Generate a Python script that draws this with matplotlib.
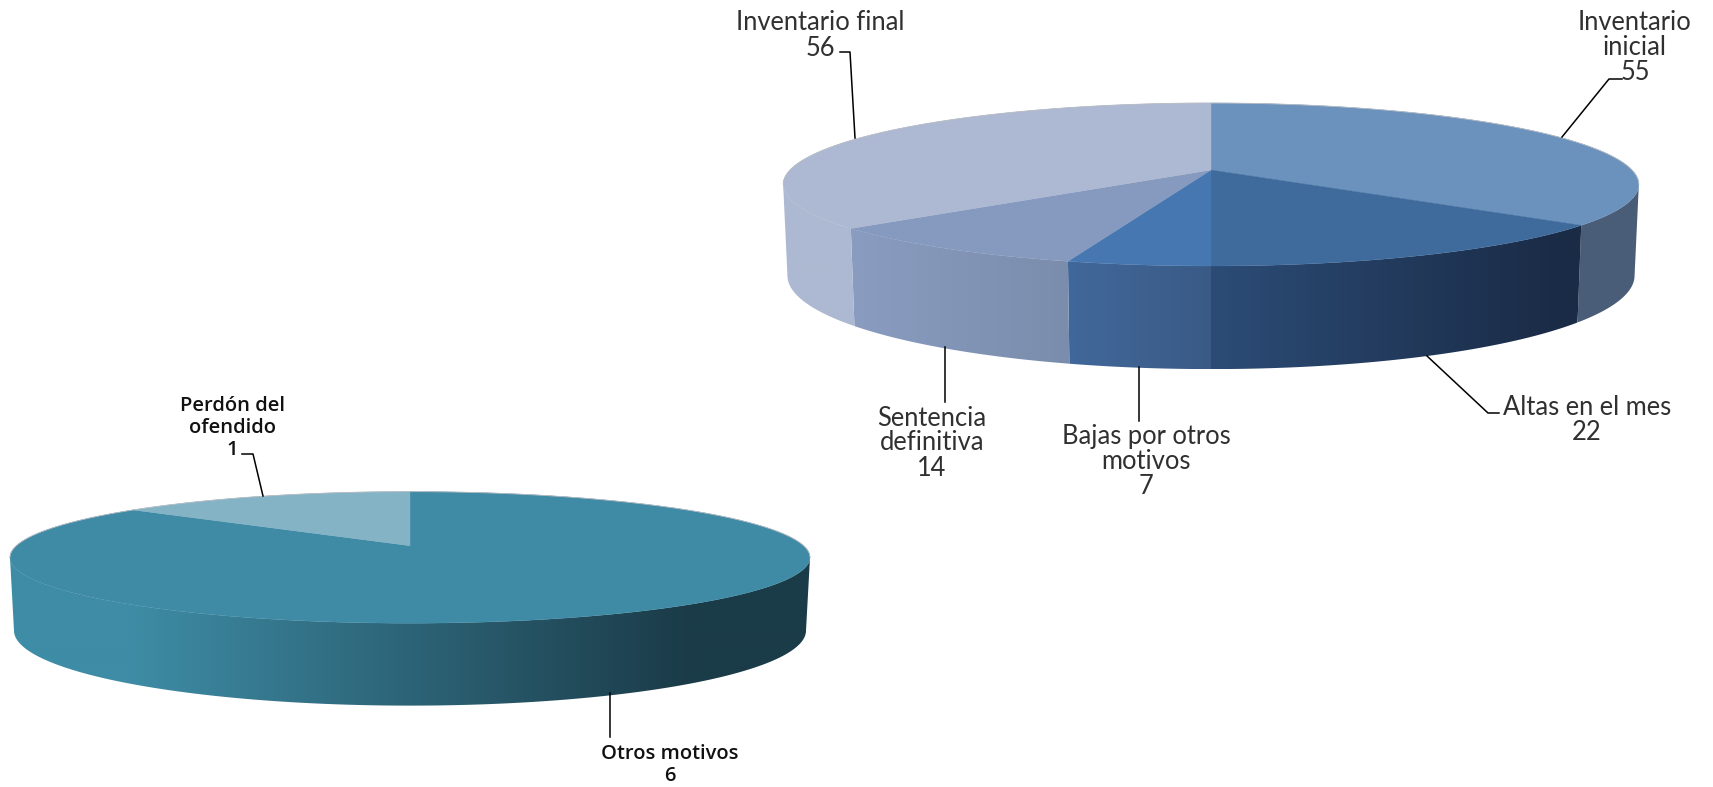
import numpy as np
import matplotlib
matplotlib.use("Agg")
import matplotlib.pyplot as plt
from matplotlib.patches import Polygon
from matplotlib.colors import to_rgb

# datos
labels_top = ["Inventario\ninicial", "Altas en el mes", "Bajas por otros\nmotivos", "Sentencia\ndefinitiva", "Inventario final"]
values_top = [55, 22, 7, 14, 56]
labels_low = ["Otros motivos", "Perdón del\nofendido"]
values_low = [6, 1]

# colores
face_top = ["#6B92BD", "#3F6A9C", "#4677B0", "#8699BF", "#ADB9D2"]
wall_top = [("#4A5D78", "#4A5D78"), ("#2C4C76", "#1A2B46"), ("#41689B", "#3A5A85"), ("#8A9CC0", "#7A8DAC"), ("#ADB9D2", "#ADB9D2")]
face_low = ["#3F8AA5", "#84B3C6"]
wall_low = [("#3E8CA5", "#1B3B48"), ("#84B3C6", "#84B3C6")]

PERSP = 0.178


def project(theta, cx, cy, a, b):
    # theta medido desde arriba en sentido horario, disco en perspectiva
    u = np.sin(theta)
    v = np.cos(theta)
    w = 1 + PERSP * v
    return cx + a * u / w, cy - b * v / w


def draw_pie(ax, values, faces, walls, cx, cy, a, b, cy2, b2, x_from, x_to):
    edges = np.cumsum([0] + values) / sum(values) * 2 * np.pi
    limit = np.arccos(-PERSP)
    for i in range(len(values)):
        t = np.linspace(edges[i], edges[i + 1], 400)
        t = t[(t >= limit) & (t <= 2 * np.pi - limit)]
        if len(t) < 2:
            continue
        x1, y1 = project(t, cx, cy, a, b)
        x2, y2 = project(t, cx, cy2, a * 0.99, b2)
        xs = np.r_[x1, x2[::-1]]
        ys = np.r_[y1, y2[::-1]]
        # degradado horizontal recortado a la pared de la rebanada
        grid = np.linspace(xs.min(), xs.max(), 400)
        s = np.clip((grid - x_from[i]) / (x_to[i] - x_from[i]), 0, 1)[None, :, None]
        c0 = np.array(to_rgb(walls[i][0]))
        c1 = np.array(to_rgb(walls[i][1]))
        im = ax.imshow(c0 + (c1 - c0) * s, extent=[xs.min(), xs.max(), ys.max(), ys.min()],
                       aspect="auto", interpolation="bilinear", zorder=2)
        clip = Polygon(np.c_[xs, ys], closed=True, transform=ax.transData)
        im.set_clip_path(clip)
    for i in range(len(values)):
        t = np.linspace(edges[i], edges[i + 1], 300)
        x1, y1 = project(t, cx, cy, a, b)
        ax.fill(np.r_[cx, x1], np.r_[cy, y1], color=faces[i], lw=0.3, zorder=3)
    t = np.linspace(-limit, limit, 300)
    x1, y1 = project(t, cx, cy, a, b)
    ax.plot(x1, y1, color="#B8BCC4", lw=0.6, zorder=3)


fig = plt.figure(figsize=(17.13, 7.87), dpi=100, facecolor="white")
ax = fig.add_axes([0, 0, 1, 1])

draw_pie(ax, values_top, face_top, wall_top, 1211, 170, 421, 78.9, 259, 90.5,
         [1500, 1211, 1068, 850, 783], [1640, 1560, 1211, 1068, 850])
draw_pie(ax, values_low, face_low, wall_low, 410, 545.7, 393.6, 63.7, 617.3, 72.6,
         [130, 10], [690, 130])

ax.set_xlim(0, 1713)
ax.set_ylim(787, 0)
ax.axis("off")

# lineas guia
leaders = [
    ([1622, 1609, 1562], [79, 79, 137]),
    ([1499, 1488, 1427], [413, 413, 356]),
    ([1139, 1139], [421, 367]),
    ([945, 945], [402, 347]),
    ([840, 850, 855], [52, 52, 138]),
    ([610, 610], [737, 693]),
    ([242, 253, 263], [454, 454, 496]),
]
for xs, ys in leaders:
    ax.plot(xs, ys, color="black", lw=1.1, zorder=4)

FONT_TOP = ["Lato", "DejaVu Sans"]
FONT_LOW = ["Open Sans", "DejaVu Sans"]
pos_top = [(1635, 47.5), (1587, 420), (1146, 461.5), (932, 443), (820, 35.5)]
for name, val, (x, y) in zip(labels_top, values_top, pos_top):
    ax.text(x, y, name + "\n" + str(val), ha="center", va="center", fontsize=18.4, family=FONT_TOP,
            color="#303030", linespacing=1.0, zorder=5)
pos_low = [(670, 765), (232, 428)]
for name, val, (x, y) in zip(labels_low, values_low, pos_low):
    ax.text(x, y, name + "\n" + str(val), ha="center", va="center", fontsize=14.5, family=FONT_LOW,
            color="#111111", fontweight="semibold", linespacing=1.15, zorder=5)

fig.savefig("out.png", dpi=100, facecolor="white")
